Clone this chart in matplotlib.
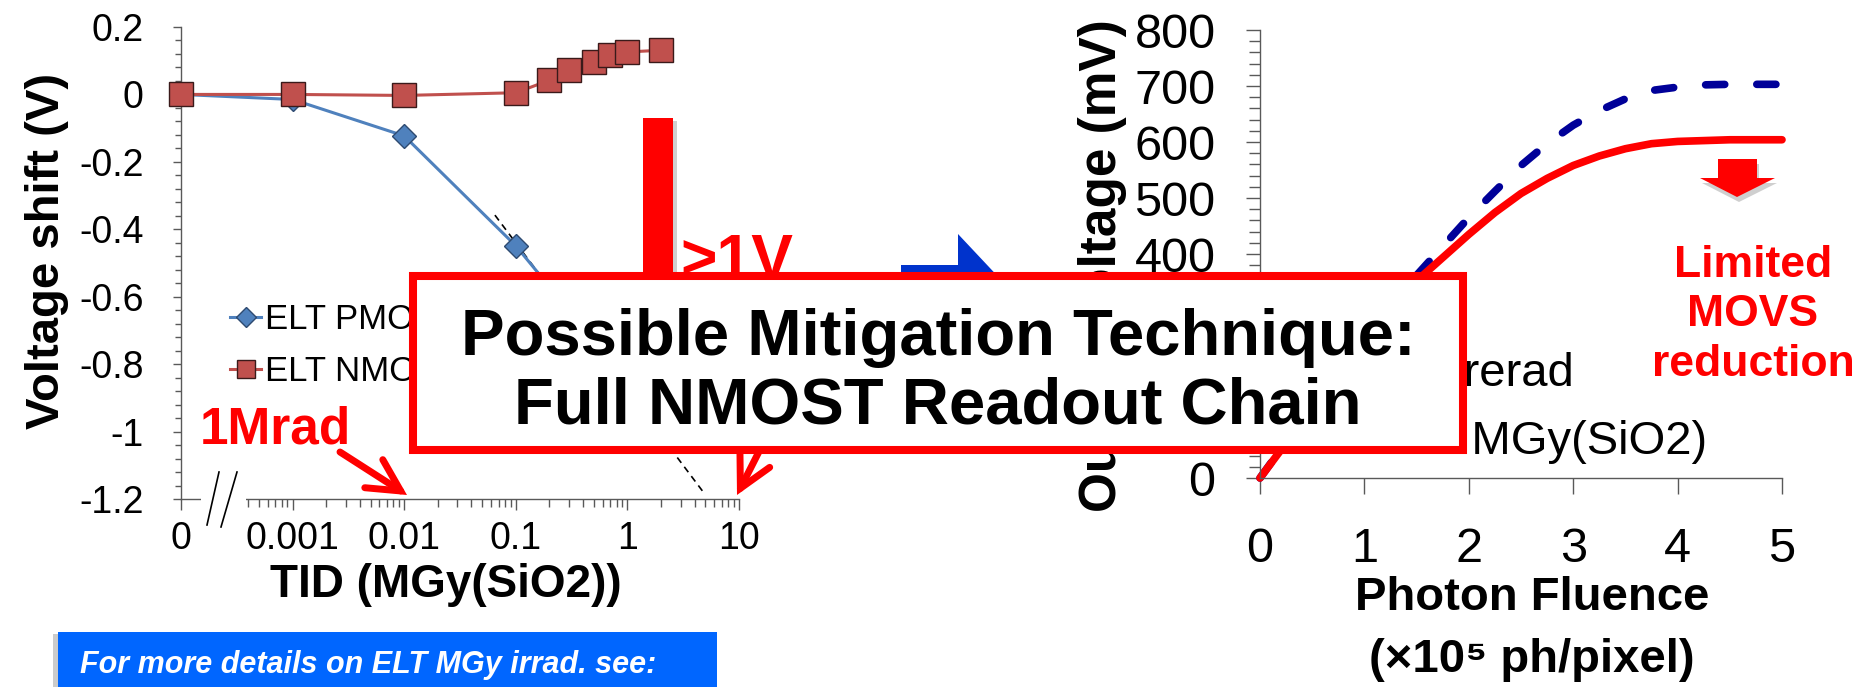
import matplotlib
matplotlib.use('Agg')

import numpy as np
import matplotlib.pyplot as plt
from matplotlib.patches import Rectangle, Polygon, FancyArrowPatch
from matplotlib.lines import Line2D
from matplotlib.ticker import FixedLocator, FixedFormatter, MultipleLocator

plt.rcParams['font.family'] = ['Liberation Sans', 'DejaVu Sans']
plt.rcParams['axes.unicode_minus'] = False

# left panel: voltage shift vs TID (MGy)
tid = [0, 0.001, 0.01, 0.1, 0.2, 0.3, 0.5, 0.7, 1, 2]
pmos_shift = [0, -0.015, -0.123, -0.449, -0.57, -0.65, -0.75, -0.81, -0.88, -1.0]
nmos_shift = [0, 0.0, -0.003, 0.005, 0.042, 0.072, 0.097, 0.117, 0.126, 0.131]
fit_tid = [0.065, 4.8]
fit_shift = [-0.358, -1.18]
tid_ticks = [0, 0.001, 0.01, 0.1, 1, 10]
tid_labels = ['0', '0.001', '0.01', '0.1', '1', '10']
shift_ticks = [-1.2, -1.0, -0.8, -0.6, -0.4, -0.2, 0, 0.2]
shift_labels = ['-1.2', '-1', '-0.8', '-0.6', '-0.4', '-0.2', '0', '0.2']

# right panel: output voltage vs photon fluence
fluence_pre = [0, 0.5, 1, 1.5, 2, 2.25, 2.5, 2.75, 3, 3.25, 3.5, 3.75, 4, 4.25, 4.5, 4.95]
vout_pre = [0, 128, 250, 362, 465, 512, 558, 597, 630, 656, 677, 692, 698, 702, 703, 703]
fluence_irr = [0, 0.5, 1, 1.5, 2, 2.25, 2.5, 2.75, 3, 3.25, 3.5, 3.75, 4, 4.5, 5]
vout_irr = [0, 125, 245, 352, 435, 474, 508, 535, 558, 575, 588, 597, 601, 604, 604]

W, H = 1876, 687
narrow = ['Liberation Sans Narrow', 'Liberation Sans', 'DejaVu Sans']


def fx(x):
    return x / W


def fy(y):
    return 1 - y / H


def fwd(x):
    return np.log10(np.maximum(np.asarray(x, float), 1e-4))


def inv(y):
    return 10.0 ** np.asarray(y, float)


fig = plt.figure(figsize=(W / 100, H / 100), dpi=100)
ax1 = fig.add_axes([fx(181), fy(499), (739 - 181) / W, (499 - 27) / H])
ax2 = fig.add_axes([fx(1260), fy(478), (1782 - 1260) / W, (478 - 30) / H])

gray = '#595959'
for ax in (ax1, ax2):
    ax.set_facecolor('none')
    ax.spines['top'].set_visible(False)
    ax.spines['right'].set_visible(False)
    for s in ('left', 'bottom'):
        ax.spines[s].set_color(gray)
        ax.spines[s].set_linewidth(1)

# ---- left panel
ax1.set_xscale('function', functions=(fwd, inv))
ax1.plot(fit_tid, fit_shift, color='black', lw=1.2, ls='--', dashes=(4, 3), zorder=1)
ax1.plot(tid, pmos_shift, '-D', color='#4F81BD', lw=2.2, ms=12.5, mec='#2E4A70', mew=1,
         clip_on=False, label='ELT PMOS', zorder=3)
ax1.plot(tid, nmos_shift, '-s', color='#C0504D', lw=2.2, ms=17, mec='#3A1A1A', mew=1,
         clip_on=False, label='ELT NMOS', zorder=4)
ax1.set_xlim(0, 10)
ax1.set_ylim(-1.2, 0.2)
ax1.xaxis.set_major_locator(FixedLocator(tid_ticks))
ax1.xaxis.set_major_formatter(FixedFormatter(tid_labels))
minor = [k * 10.0 ** e for e in range(-4, 1) for k in range(2, 10) if k * 10.0 ** e > 3.5e-4]
ax1.xaxis.set_minor_locator(FixedLocator(minor))
ax1.xaxis.set_minor_formatter(FixedFormatter([''] * len(minor)))
ax1.yaxis.set_major_locator(FixedLocator(shift_ticks))
ax1.yaxis.set_major_formatter(FixedFormatter(shift_labels))
ax1.yaxis.set_minor_locator(MultipleLocator(0.04))
ax1.tick_params(axis='y', which='major', length=5.8, width=1, color=gray, pad=21, labelsize=27)
ax1.tick_params(axis='y', which='minor', length=4.3, width=1, color=gray)
ax1.tick_params(axis='x', which='major', length=8, width=1, color=gray, pad=8, labelsize=27)
ax1.tick_params(axis='x', which='minor', length=6, width=1, color=gray)
ax1.set_ylabel('Voltage shift (V)', fontsize=34, weight='bold')
ax1.yaxis.set_label_coords(-0.24, 0.525)
ax1.yaxis.label.set_verticalalignment('center')
ax1.set_xlabel('TID (MGy(SiO2))', fontsize=33, weight='bold')
ax1.xaxis.set_label_coords(0.475, -0.135)
ax1.legend(loc='upper left', bbox_to_anchor=(fx(230), fy(303)), bbox_transform=fig.transFigure,
           frameon=False, fontsize=25, borderpad=0, borderaxespad=0, handlelength=0.9,
           handletextpad=0.1, labelspacing=0.54, markerscale=0.8, numpoints=1)

# ---- right panel
ax2.plot(fluence_pre, vout_pre, color='#000099', lw=5.5, ls='--', dashes=(2.5, 4.2),
         dash_capstyle='round', clip_on=False, label='Prerad')
ax2.plot(fluence_irr, vout_irr, color='#FF0000', lw=5.5, solid_capstyle='round',
         clip_on=False, label='1 MGy(SiO2)')
ax2.set_xlim(0, 5)
ax2.set_ylim(0, 800)
ax2.xaxis.set_major_locator(MultipleLocator(1))
ax2.yaxis.set_major_locator(MultipleLocator(100))
ax2.yaxis.set_minor_locator(MultipleLocator(20))
ax2.tick_params(axis='y', which='major', length=10, width=1, color=gray, pad=22, labelsize=35)
ax2.tick_params(axis='y', which='minor', length=8, width=1, color=gray)
ax2.tick_params(axis='x', which='major', length=11.5, width=1, color=gray, pad=24, labelsize=35)
for lab in ax2.get_xticklabels() + ax2.get_yticklabels():
    lab.set_fontfamily(narrow)
ax2.set_ylabel('Output Voltage (mV)', fontsize=37, weight='bold')
ax2.yaxis.set_label_coords(-0.301, 0.475)
ax2.yaxis.label.set_verticalalignment('center')
ax2.set_xlabel('Photon Fluence\n(\u00d710\u2075 ph/pixel)', fontsize=34, weight='bold', linespacing=1.55)
ax2.xaxis.set_label_coords(0.521, -0.218)
ax2.legend(loc='upper left', bbox_to_anchor=(fx(1319), fy(352)), bbox_transform=fig.transFigure,
           frameon=False, fontsize=34, borderpad=0, borderaxespad=0, handlelength=2,
           handletextpad=0.4, labelspacing=0.5)

tf = fig.transFigure


def P(x, y):
    return (fx(x), fy(y))


# axis break on the TID axis
fig.add_artist(Rectangle(P(201, 503), (246 - 201) / W, 8 / H, fc='white', ec='none', transform=tf, zorder=2))
fig.add_artist(Line2D([fx(207), fx(219)], [fy(525), fy(472)], color='black', lw=1.2, transform=tf, zorder=3))
fig.add_artist(Line2D([fx(221), fx(237)], [fy(527), fy(472)], color='black', lw=1.2, transform=tf, zorder=3))

# red bar (arrow shaft) with shadow
fig.add_artist(Rectangle(P(647, 305), 30 / W, (305 - 121) / H, fc='#888888', ec='none', alpha=0.4,
                         transform=tf, zorder=2.9))
fig.add_artist(Rectangle(P(643, 300), 30 / W, (300 - 118) / H, fc='#FF0000', ec='none',
                         transform=tf, zorder=3))
fig.text(fx(680), fy(278), '>1V', color='#FF0000', fontsize=45, weight='bold', va='baseline', zorder=4)

# blue block arrow
blue_pts = [(901, 265), (958, 265), (958, 234), (1020, 300), (958, 366), (958, 335), (901, 335)]
fig.add_artist(Polygon([P(*p) for p in blue_pts], closed=True, fc='#0033CC', ec='none', transform=tf, zorder=3))

# red down arrow on the right panel
down_pts = [(1718, 159), (1757, 159), (1757, 178), (1775, 178), (1737, 197), (1700, 178), (1718, 178)]
fig.add_artist(Polygon([P(x + 2, y + 5) for x, y in down_pts], closed=True, fc='#777777', ec='none',
                       alpha=0.35, transform=tf, zorder=2.9))
fig.add_artist(Polygon([P(*p) for p in down_pts], closed=True, fc='#FF0000', ec='none', transform=tf, zorder=3))
# va='baseline' anchors the last line of a multi-line text
fig.text(fx(1753), fy(376), 'Limited\nMOVS\nreduction', color='#FF0000', fontsize=32, weight='bold',
         ha='center', va='baseline', multialignment='center', linespacing=1.27, zorder=4)

# 1 Mrad and 10 MGy arrows
fig.text(fx(200), fy(444), '1Mrad', color='#FF0000', fontsize=37, weight='bold', va='baseline', zorder=4)
for tail, tip in [((340, 452), (407, 495)), ((775, 420), (737, 495))]:
    fig.add_artist(FancyArrowPatch(P(*tail), P(*tip), transform=tf, color='#FF0000', lw=5,
                                   arrowstyle='->,head_length=1.15,head_width=0.6', mutation_scale=20,
                                   shrinkA=0, shrinkB=0, capstyle='round', joinstyle='miter', zorder=4))

# central box
fig.add_artist(Rectangle(P(413, 450), (1463 - 413) / W, (450 - 276) / H, fc='white', ec='#FF0000',
                         lw=5.8, joinstyle='miter', transform=tf, zorder=5))
fig.text(fx(938), fy(424), 'Possible Mitigation Technique:\nFull NMOST Readout Chain', ha='center',
         va='baseline', multialignment='center', fontsize=47, weight='bold', linespacing=1.19, zorder=6)

# blue note box at the bottom
fig.add_artist(Rectangle(P(53, 690), 6 / W, (690 - 634) / H, fc='#999999', ec='none', alpha=0.5,
                         transform=tf, zorder=2))
fig.add_artist(Rectangle(P(58, 690), (717 - 58) / W, (690 - 632) / H, fc='#0066FF', ec='none',
                         transform=tf, zorder=2.5))
fig.text(fx(80), fy(673), 'For more details on ELT MGy irrad. see:', color='white', fontsize=22,
         weight='bold', style='italic', va='baseline', zorder=3)

fig.savefig('out.png', dpi=100)
